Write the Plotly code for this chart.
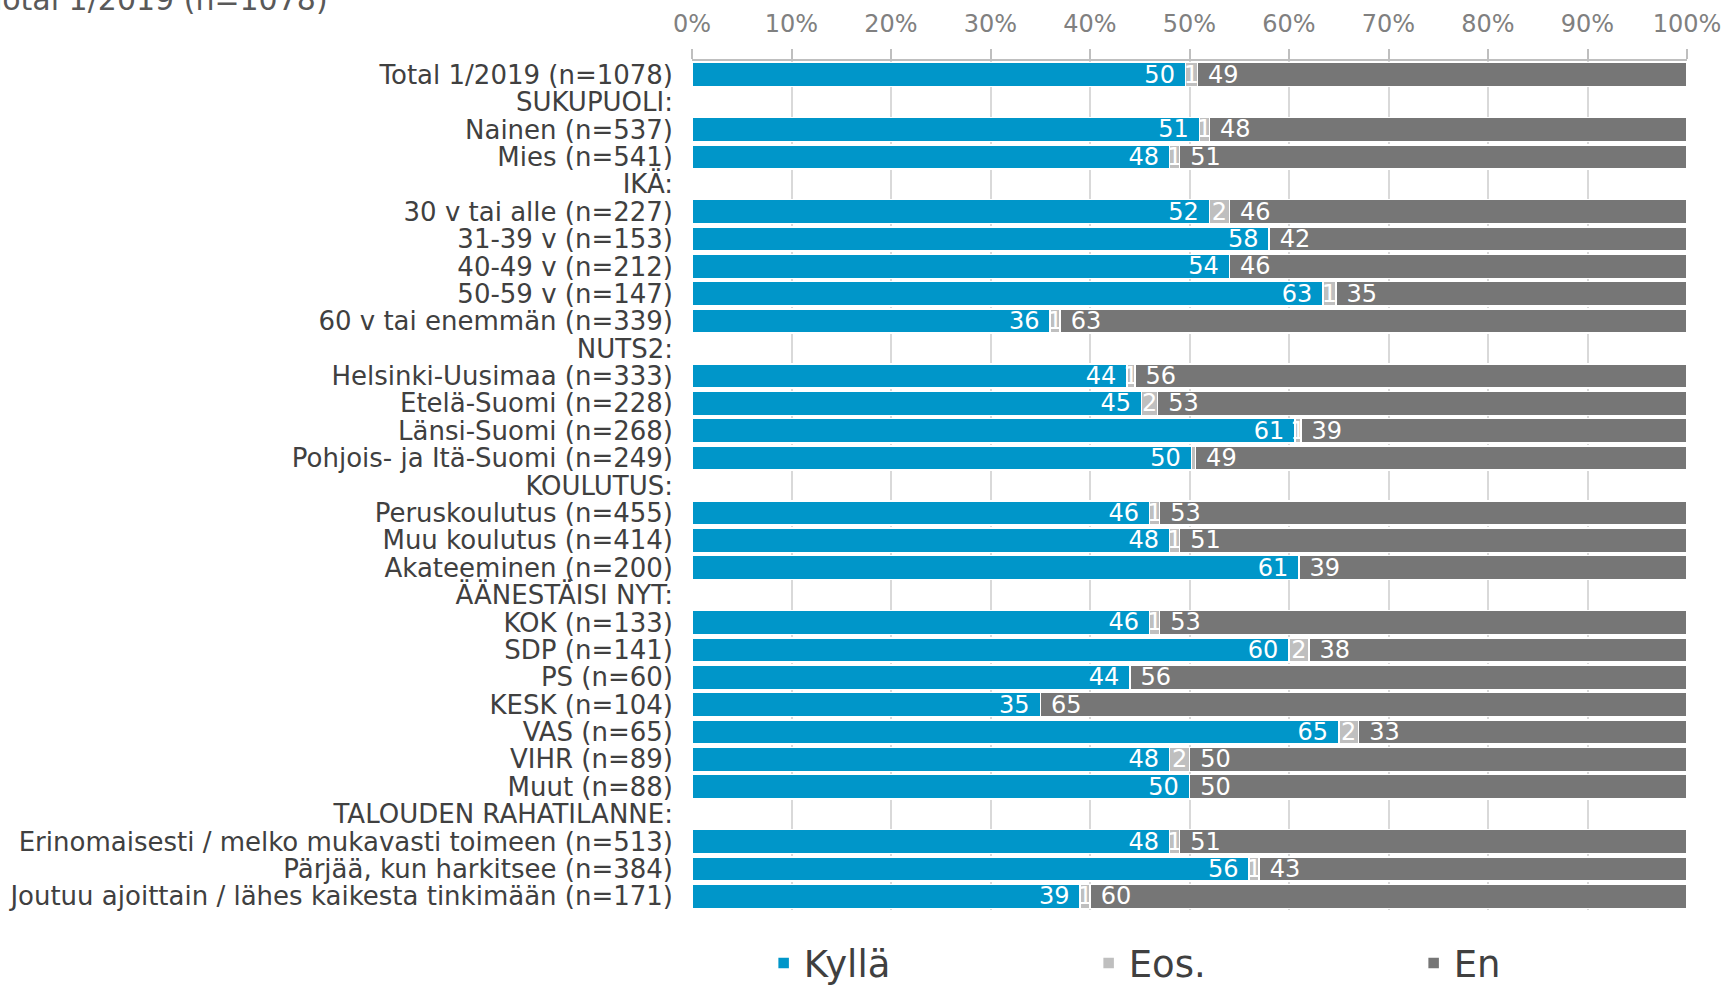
import plotly.graph_objects as go

categories = [
    "Total 1/2019 (n=1078)",
    "SUKUPUOLI:",
    "Nainen (n=537)",
    "Mies (n=541)",
    "IKÄ:",
    "30 v tai alle (n=227)",
    "31-39 v (n=153)",
    "40-49 v (n=212)",
    "50-59 v (n=147)",
    "60 v tai enemmän (n=339)",
    "NUTS2:",
    "Helsinki-Uusimaa (n=333)",
    "Etelä-Suomi (n=228)",
    "Länsi-Suomi (n=268)",
    "Pohjois- ja Itä-Suomi (n=249)",
    "KOULUTUS:",
    "Peruskoulutus (n=455)",
    "Muu koulutus (n=414)",
    "Akateeminen (n=200)",
    "ÄÄNESTÄISI NYT:",
    "KOK (n=133)",
    "SDP (n=141)",
    "PS (n=60)",
    "KESK (n=104)",
    "VAS (n=65)",
    "VIHR (n=89)",
    "Muut (n=88)",
    "TALOUDEN RAHATILANNE:",
    "Erinomaisesti / melko mukavasti toimeen (n=513)",
    "Pärjää, kun harkitsee (n=384)",
    "Joutuu ajoittain / lähes kaikesta tinkimään (n=171)",
]

kylla = [49.6, None, 51, 48, None, 52, 58, 54, 63.4, 36, None, 43.7, 45.2, 60.6, 50.2,
         None, 46, 48, 61, None, 46, 60, 44, 35, 65, 48, 50, None, 48, 56, 39]
eos = [1.2, None, 1, 1, None, 2, 0, 0, 1.3, 1, None, 0.8, 1.6, 0.6, 0.4,
       None, 1, 1, 0, None, 1, 2, 0, 0, 2, 2, 0, None, 1, 1, 1]
en = [49.2, None, 48, 51, None, 46, 42, 46, 35.3, 63, None, 55.5, 53.2, 38.8, 49.4,
      None, 53, 51, 39, None, 53, 38, 56, 65, 33, 50, 50, None, 51, 43, 60]

series_names = ["Kyllä", "Eos.", "En"]
series_colors = ["#0096c9", "#bfbfbf", "#767676"]
anchors = ["end", "middle", "start"]
pads = [("", "\u00a0"), ("", ""), ("\u00a0", "")]

tick_values = [0, 10, 20, 30, 40, 50, 60, 70, 80, 90, 100]
tick_labels = [f"{v}%" for v in tick_values]


def labels(vals, pad):
    out = []
    for v in vals:
        if v is None or v < 0.5:
            out.append("")
        else:
            out.append(pad[0] + str(int(round(v))) + pad[1])
    return out


fig = go.Figure()
for name, vals, color, anc, pad in zip(series_names, [kylla, eos, en], series_colors, anchors, pads):
    fig.add_trace(go.Bar(
        name=name,
        y=categories,
        x=vals,
        orientation="h",
        marker=dict(color=color, line=dict(color="white", width=1.5)),
        text=labels(vals, pad),
        textposition="inside",
        insidetextanchor=anc,
        textfont=dict(color="white", size=24, family="DejaVu Sans"),
        constraintext="none",
        hoverinfo="skip",
    ))

fig.update_layout(
    barmode="stack",
    bargap=0.12,
    width=1729,
    height=990,
    margin=dict(l=692, r=42, t=61, b=80, autoexpand=False),
    paper_bgcolor="white",
    plot_bgcolor="white",
    font=dict(family="DejaVu Sans", color="#404040"),
    uniformtext=dict(minsize=24, mode="show"),
    xaxis=dict(
        side="top",
        range=[0, 100],
        tickmode="array",
        tickvals=tick_values,
        ticktext=tick_labels,
        tickfont=dict(size=24, color="#808080"),
        ticks="outside",
        ticklen=10,
        tickcolor="#bfbfbf",
        tickwidth=1.5,
        ticklabelstandoff=8,
        showline=True,
        linecolor="#bfbfbf",
        linewidth=1.5,
        showgrid=True,
        gridcolor="#d9d9d9",
        gridwidth=1.5,
        zeroline=False,
        fixedrange=True,
    ),
    yaxis=dict(
        type="category",
        autorange="reversed",
        tickmode="array",
        tickvals=categories,
        ticktext=categories,
        tickfont=dict(size=26, color="#404040"),
        ticks="",
        ticklabelstandoff=18,
        showgrid=False,
        showline=False,
        zeroline=False,
        fixedrange=True,
    ),
    legend=dict(
        orientation="h",
        x=0.072,
        xanchor="left",
        y=-0.063,
        yanchor="middle",
        entrywidth=280,
        entrywidthmode="pixels",
        font=dict(size=37, color="#404040"),
        traceorder="normal",
    ),
    showlegend=True,
    annotations=[dict(
        text="Total 1/2019 (n=1078)",
        xref="paper", yref="paper",
        x=(330 - 692) / 995, y=1.05,
        xanchor="right", yanchor="bottom",
        showarrow=False,
        font=dict(size=30, color="#595959", family="DejaVu Sans"),
    )],
)

fig.write_html(
    "out.html",
    config={"displayModeBar": False},
    post_script="document.body.style.margin='0';document.body.style.overflow='hidden';",
)
